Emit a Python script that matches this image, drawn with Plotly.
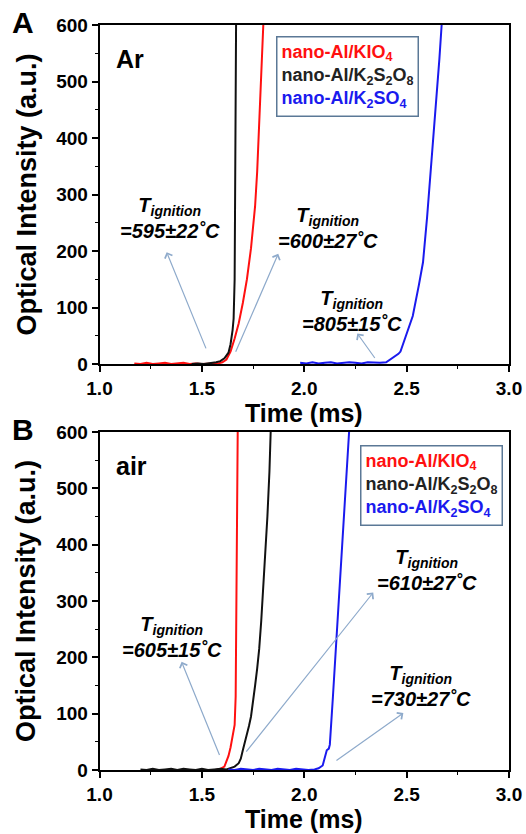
import plotly.graph_objects as go

# ---------------- data: panel A (Ar) ----------------
a_kio4_x = [1.17, 1.20, 1.23, 1.26, 1.29, 1.32, 1.35, 1.38, 1.41, 1.44, 1.47, 1.50, 1.53, 1.56, 1.58,
            1.60, 1.62, 1.64, 1.66, 1.68, 1.70, 1.72, 1.74, 1.75, 1.76, 1.77, 1.78, 1.79, 1.80]
a_kio4_y = [1, 0, 2, 0, 1, 2, 0, 1, 2, 0, 1, 0, 1, 1, 1,
            3, 8, 22, 45, 72, 108, 150, 205, 240, 280, 340, 420, 510, 600]

a_k2s2o8_x = [1.45, 1.48, 1.51, 1.54, 1.57, 1.59, 1.61, 1.63, 1.64, 1.65, 1.655, 1.66, 1.663, 1.667]
a_k2s2o8_y = [0, 1, 0, 1, 3, 5, 10, 20, 35, 60, 80, 150, 300, 600]

a_k2so4_x = [1.98, 2.01, 2.04, 2.07, 2.10, 2.13, 2.16, 2.19, 2.22, 2.25, 2.28, 2.31, 2.34, 2.37, 2.40,
             2.43, 2.46, 2.47, 2.50, 2.53, 2.56, 2.58, 2.60, 2.62, 2.64, 2.66, 2.671]
a_k2so4_y = [2, 1, 3, 1, 2, 3, 1, 2, 3, 2, 1, 3, 2, 2, 3,
             10, 18, 22, 55, 85, 140, 180, 260, 350, 440, 540, 600]

# ---------------- data: panel B (air) ----------------
b_kio4_x = [1.57, 1.59, 1.61, 1.62, 1.63, 1.64, 1.65, 1.66, 1.665, 1.668, 1.672, 1.675]
b_kio4_y = [0, 2, 6, 15, 25, 40, 60, 80, 130, 250, 400, 600]

b_k2s2o8_x = [1.20, 1.23, 1.26, 1.29, 1.32, 1.35, 1.38, 1.41, 1.44, 1.47, 1.50, 1.53, 1.56, 1.59, 1.62,
              1.64, 1.66, 1.68, 1.69, 1.70, 1.71, 1.72, 1.73, 1.74, 1.75, 1.76, 1.77, 1.78, 1.79,
              1.80, 1.81, 1.82, 1.83, 1.836]
b_k2s2o8_y = [1, 0, 2, 0, 1, 2, 0, 2, 1, 0, 2, 0, 1, 2, 1,
              3, 6, 12, 20, 35, 48, 62, 78, 95, 120, 150, 180, 215, 265,
              320, 380, 450, 530, 600]

b_k2so4_x = [1.63, 1.66, 1.69, 1.72, 1.75, 1.78, 1.81, 1.84, 1.87, 1.90, 1.93, 1.96, 1.99, 2.02, 2.05,
             2.07, 2.09, 2.10, 2.11, 2.12, 2.125, 2.14, 2.16, 2.18, 2.20, 2.219]
b_k2so4_y = [1, 0, 2, 1, 0, 2, 1, 0, 2, 1, 0, 2, 1, 0, 1,
             3, 8, 20, 35, 38, 45, 130, 250, 370, 490, 600]

series_names = ["nano-Al/KIO<sub>4</sub>", "nano-Al/K<sub>2</sub>S<sub>2</sub>O<sub>8</sub>",
                "nano-Al/K<sub>2</sub>SO<sub>4</sub>"]
series_colors = ["#ff1010", "#111111", "#1a1aee"]
legend_text_colors = ["#ff1010", "#222222", "#1a1aee"]

x_ticks = [1.0, 1.5, 2.0, 2.5, 3.0]
y_ticks = [0, 100, 200, 300, 400, 500, 600]

# annotation texts and arrows (data coords)
a_labels = [("=595\u00b122\u02daC", 1.345, 258), ("=600\u00b127\u02daC", 2.115, 240), ("=805\u00b115\u02daC", 2.232, 94)]
a_arrows = [(1.523, 25, 1.328, 198), (1.662, 19, 1.873, 195), (2.350, 8, 2.259, 54)]
b_labels = [("=605\u00b115\u02daC", 1.353, 236), ("=610\u00b127\u02daC", 2.598, 355), ("=730\u00b127\u02daC", 2.569, 149)]
b_arrows = [(1.589, 24, 1.401, 192), (1.711, 30, 2.337, 315), (2.150, 15, 2.484, 101)]

FONT = "Arial, Liberation Sans, sans-serif"
ARROW_COLOR = "#8eaacb"

fig = go.Figure()

panels = [
    ("x", "y", [(a_kio4_x, a_kio4_y), (a_k2s2o8_x, a_k2s2o8_y), (a_k2so4_x, a_k2so4_y)]),
    ("x2", "y2", [(b_kio4_x, b_kio4_y), (b_k2s2o8_x, b_k2s2o8_y), (b_k2so4_x, b_k2so4_y)]),
]
for xa, ya, data in panels:
    for (xs, ys), name, col in zip(data, series_names, series_colors):
        fig.add_trace(go.Scatter(x=xs, y=ys, mode="lines", name=name, xaxis=xa, yaxis=ya,
                                 line=dict(color=col, width=2), showlegend=False))

W, H = 526, 834
x0, x1 = 99.5 / W, 509 / W
axA = (1 - 364 / H, 1 - 25 / H)
axB = (1 - 770 / H, 1 - 432 / H)

common_x = dict(range=[1.0, 3.0], tickvals=x_ticks, ticktext=[f"{v:.1f}" for v in x_ticks],
                showline=True, mirror=True, linecolor="black", linewidth=1.5,
                ticks="outside", ticklen=6, tickwidth=1.5, tickcolor="black",
                minor=dict(ticks="outside", ticklen=3, tickwidth=1.2, tickcolor="black", dtick=0.25),
                showgrid=False, zeroline=False, automargin=False,
                tickfont=dict(family=FONT, size=19, color="black", weight="bold"))
common_y = dict(range=[0, 600], tickvals=y_ticks,
                showline=True, mirror=True, linecolor="black", linewidth=1.5,
                ticks="outside", ticklen=6, tickwidth=1.5, tickcolor="black",
                minor=dict(ticks="outside", ticklen=3, tickwidth=1.2, tickcolor="black", dtick=50),
                showgrid=False, zeroline=False, automargin=False,
                tickfont=dict(family=FONT, size=19, color="black", weight="bold"))

fig.update_layout(
    width=W, height=H, margin=dict(l=0, r=0, t=0, b=0, autoexpand=False),
    paper_bgcolor="white", plot_bgcolor="white", showlegend=False,
    xaxis=dict(domain=[x0, x1], anchor="y", **common_x),
    yaxis=dict(domain=list(axA), anchor="x", **common_y),
    xaxis2=dict(domain=[x0, x1], anchor="y2", **common_x),
    yaxis2=dict(domain=list(axB), anchor="x2", **common_y),
)

ann = []
bold = dict(family=FONT, color="black", weight="bold")

def panel_text(xref, yref, letter, gas, labels, arrows, leg_x, leg_y, axdom):
    ymid = (axdom[0] + axdom[1]) / 2
    # panel letter
    ann.append(dict(text=letter, x=10 / W, y=axdom[1] + 3 / H, xref="paper", yref="paper",
                    xanchor="left", yanchor="middle", showarrow=False, font=dict(size=30, **bold)))
    # gas label
    ann.append(dict(text=gas, x=1.07, y=540, xref=xref, yref=yref, xanchor="left", yanchor="middle",
                    showarrow=False, font=dict(size=25, **bold)))
    # axis titles
    ann.append(dict(text="Optical Intensity (a.u.)", x=26 / W, y=ymid, xref="paper", yref="paper",
                    textangle=-90, xanchor="center", yanchor="middle", showarrow=False,
                    font=dict(size=27, **bold)))
    ann.append(dict(text="Time (ms)", x=2.0, y=axdom[0] - 49 / H, xref=xref, yref="paper",
                    xanchor="center", yanchor="middle", showarrow=False, font=dict(size=25, **bold)))
    # legend box
    leg = "<br>".join(f"<span style='color:{c}'>{n}</span>"
                      for n, c in zip(series_names, legend_text_colors))
    ann.append(dict(text=leg, x=leg_x, y=leg_y, xref=xref, yref=yref, xanchor="left", yanchor="top",
                    align="left", showarrow=False, bordercolor="#5b7896", borderwidth=1.5, borderpad=4,
                    bgcolor="white", font=dict(family=FONT, size=18, color="black", weight="bold")))
    # T ignition labels
    for txt, lx, ly in labels:
        ann.append(dict(text=f"<i>T</i><sub><i>ignition</i></sub><br><i>{txt}</i>", x=lx, y=ly,
                        xref=xref, yref=yref, xanchor="center", yanchor="middle", showarrow=False,
                        align="center", font=dict(size=20, **bold)))
    for tx, ty, hx, hy in arrows:
        ann.append(dict(text="", x=hx, y=hy, ax=tx, ay=ty, xref=xref, yref=yref, axref=xref, ayref=yref,
                        showarrow=True, arrowhead=4, arrowsize=1.3, arrowwidth=1.2, arrowcolor=ARROW_COLOR))

panel_text("x", "y", "A", "Ar", a_labels, a_arrows, 1.86, 580, axA)
panel_text("x2", "y2", "B", "air", b_labels, b_arrows, 2.27, 577, axB)

fig.update_layout(annotations=ann)
fig.write_html("out.html")
